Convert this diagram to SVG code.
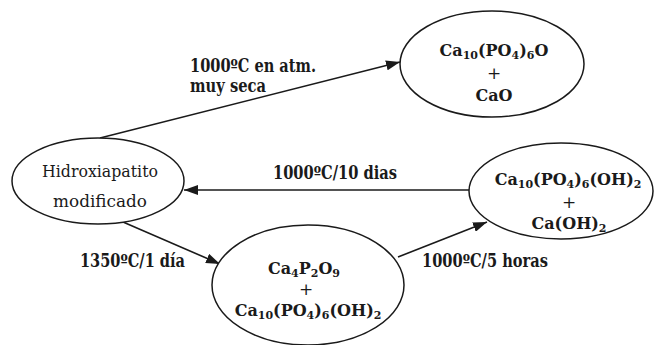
<svg xmlns="http://www.w3.org/2000/svg" width="656" height="345" viewBox="0 0 656 345">
  <style>
    .node { fill: #ffffff; stroke: #1a1a1a; stroke-width: 1.5; }
    .edge { fill: none; stroke: #1a1a1a; stroke-width: 1.6; }
    .chem { font-family: 'DejaVu Serif', serif; font-weight: bold; font-size: 16px; text-anchor: middle; fill: #1a1a1a; }
    .plus { font-family: 'DejaVu Serif', serif; font-size: 17px; text-anchor: middle; fill: #1a1a1a; }
    .lbl { font-family: 'DejaVu Serif', serif; font-weight: bold; font-size: 18px; fill: #1a1a1a; }
    .plain { font-family: 'DejaVu Serif', serif; font-size: 17px; text-anchor: middle; fill: #1a1a1a; }
    .sub { font-size: 11px; }
  </style>
  <defs>
    <marker id="arrow" viewBox="0 0 14 10" refX="14" refY="5" markerWidth="14" markerHeight="10" markerUnits="userSpaceOnUse" orient="auto">
      <path d="M0,0 L14,5 L0,10 Z" fill="#1a1a1a"/>
    </marker>
  </defs>

  <!-- connectors -->
  <g id="connectors">
    <line class="edge" x1="100" y1="138" x2="400" y2="62" marker-end="url(#arrow)"/>
    <line class="edge" x1="469" y1="190" x2="184" y2="190" marker-end="url(#arrow)"/>
    <line class="edge" x1="123" y1="222" x2="220" y2="264" marker-end="url(#arrow)"/>
    <line class="edge" x1="398" y1="257" x2="487" y2="222" marker-end="url(#arrow)"/>
  </g>

  <!-- connector labels -->
  <g id="labels">
    <text class="lbl" x="190" y="72" textLength="126" lengthAdjust="spacingAndGlyphs">1000ºC en atm.</text>
    <text class="lbl" x="190" y="92" textLength="76" lengthAdjust="spacingAndGlyphs">muy seca</text>
    <text class="lbl" x="273" y="179" textLength="124" lengthAdjust="spacingAndGlyphs">1000ºC/10 dias</text>
    <text class="lbl" x="80" y="267" textLength="105" lengthAdjust="spacingAndGlyphs">1350ºC/1 día</text>
    <text class="lbl" x="422" y="267" textLength="126" lengthAdjust="spacingAndGlyphs">1000ºC/5 horas</text>
  </g>

  <!-- Hidroxiapatito modificado -->
  <g id="node-hap">
    <ellipse class="node" cx="98" cy="181" rx="86" ry="43"/>
    <text class="plain" x="100" y="177" textLength="116" lengthAdjust="spacingAndGlyphs">Hidroxiapatito</text>
    <text class="plain" x="100" y="207" textLength="94" lengthAdjust="spacingAndGlyphs">modificado</text>
  </g>

  <!-- Ca10(PO4)6O + CaO -->
  <g id="node-oxyapatite">
    <ellipse class="node" cx="492" cy="64" rx="92" ry="53"/>
    <text class="chem" x="494" y="56">Ca<tspan class="sub" dy="3">10</tspan><tspan dy="-3">(PO</tspan><tspan class="sub" dy="3">4</tspan><tspan dy="-3">)</tspan><tspan class="sub" dy="3">6</tspan><tspan dy="-3">O</tspan></text>
    <text class="plus" x="494" y="79">+</text>
    <text class="chem" x="494" y="101">CaO</text>
  </g>

  <!-- Ca10(PO4)6(OH)2 + Ca(OH)2 -->
  <g id="node-hydroxyapatite">
    <ellipse class="node" cx="561" cy="191" rx="92" ry="48"/>
    <text class="chem" x="568" y="185">Ca<tspan class="sub" dy="3">10</tspan><tspan dy="-3">(PO</tspan><tspan class="sub" dy="3">4</tspan><tspan dy="-3">)</tspan><tspan class="sub" dy="3">6</tspan><tspan dy="-3">(OH)</tspan><tspan class="sub" dy="3">2</tspan></text>
    <text class="plus" x="569" y="208">+</text>
    <text class="chem" x="569" y="229">Ca(OH)<tspan class="sub" dy="3">2</tspan></text>
  </g>

  <!-- Ca4P2O9 + Ca10(PO4)6(OH)2 -->
  <g id="node-ttcp">
    <ellipse class="node" cx="308" cy="285" rx="96" ry="60"/>
    <text class="chem" x="304" y="274">Ca<tspan class="sub" dy="3">4</tspan><tspan dy="-3">P</tspan><tspan class="sub" dy="3">2</tspan><tspan dy="-3">O</tspan><tspan class="sub" dy="3">9</tspan></text>
    <text class="plus" x="306" y="295">+</text>
    <text class="chem" x="308" y="316">Ca<tspan class="sub" dy="3">10</tspan><tspan dy="-3">(PO</tspan><tspan class="sub" dy="3">4</tspan><tspan dy="-3">)</tspan><tspan class="sub" dy="3">6</tspan><tspan dy="-3">(OH)</tspan><tspan class="sub" dy="3">2</tspan></text>
  </g>
</svg>
